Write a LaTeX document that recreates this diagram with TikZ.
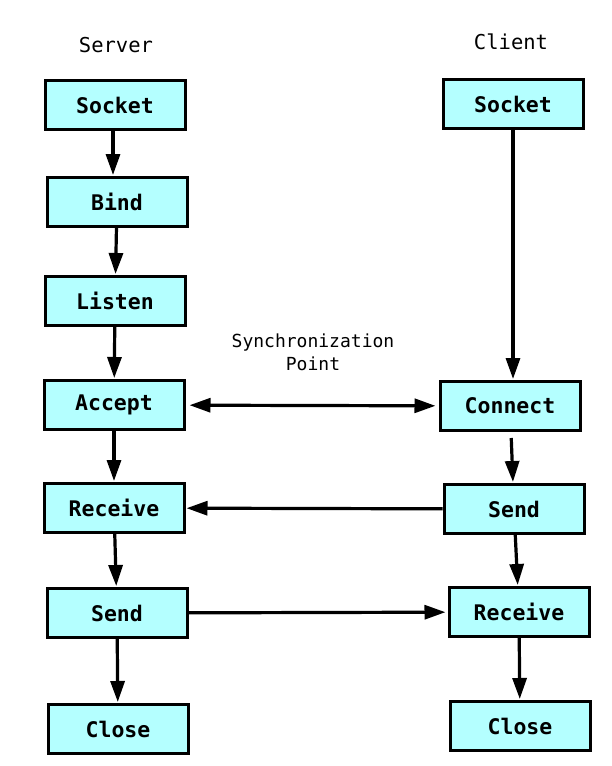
\documentclass[tikz,border=0pt]{standalone}
\usepackage{fontspec}
\setmonofont{DejaVu Sans Mono}
\usetikzlibrary{positioning, arrows.meta}
\definecolor{boxcyan}{RGB}{180,255,255}

\begin{document}
\begin{tikzpicture}[
    x=1pt, y=-1pt,
    % Styles
    stepbox/.style={draw=black, fill=boxcyan, line width=3pt, minimum width=140pt, minimum height=49pt, inner sep=0pt, font=\ttfamily\bfseries\fontsize{21.5}{25}\selectfont},
    header/.style={font=\ttfamily\fontsize{20.5}{24}\selectfont},
    note/.style={font=\ttfamily\fontsize{18}{23}\selectfont, align=center},
    arrow/.style={-{Triangle[length=21pt, width=14pt]}, line width=3.2pt, shorten >=1pt},
    both-arrow/.style={{Triangle[length=21pt, width=14pt]}-{Triangle[length=21pt, width=14pt]}, line width=3.2pt, shorten >=3pt, shorten <=4pt},
]
\useasboundingbox (0,0) rectangle (611,766);

% Headers
\node[header] (srvhead) at (116,45) {Server};
\node[header] (clihead) at (511,42) {Client};

% SERVER column
\node[stepbox] (ssocket) at (115,105) {Socket};
\node[stepbox] (sbind) at (117,202) {Bind};
\node[stepbox] (slisten) at (115,301) {Listen};
\node[stepbox] (saccept) at (114,405) {Accept};
\node[stepbox] (sreceive) at (114,508) {Receive};
\node[stepbox] (ssend) at (117,613) {Send};
\node[stepbox] (sclose) at (118,729) {Close};

\draw[arrow] (ssocket.south -| 113,0) -- (sbind.north -| 113,0);
\draw[arrow] (sbind) -- (slisten);
\draw[arrow] (slisten) -- (saccept);
\draw[arrow] (saccept) -- (sreceive);
\draw[arrow] (sreceive) -- (ssend);
\draw[arrow] (ssend) -- (sclose);

% CLIENT column
\node[stepbox] (csocket) at (513,104) {Socket};
\node[stepbox] (cconnect) at (510,406) {Connect};
\node[stepbox] (csend) at (514,509) {Send};
\node[stepbox] (creceive) at (519,612) {Receive};
\node[stepbox] (cclose) at (520,726) {Close};

\draw[arrow] (csocket) -- (cconnect.north -| csocket);
\draw[arrow, shorten <=6pt] (cconnect) -- (csend);
\draw[arrow] (csend) -- (creceive);
\draw[arrow] (creceive) -- (cclose);

% Synchronization
\node[note] (sync) at (313,352) {Synchronization\\Point};
\draw[both-arrow] (saccept) -- (cconnect);

% Data exchange
\draw[arrow] (csend) -- (sreceive);
\draw[arrow, shorten >=2pt] (ssend) -- (creceive);

\end{tikzpicture}
\end{document}
